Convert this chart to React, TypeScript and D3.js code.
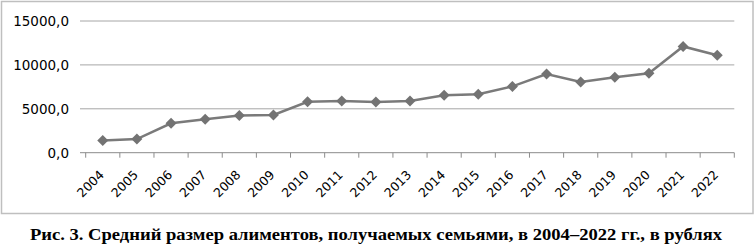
import React from "react";
import * as d3 from "d3";

const years = ["2004","2005","2006","2007","2008","2009","2010","2011","2012","2013","2014","2015","2016","2017","2018","2019","2020","2021","2022"];
const values = [1400, 1550, 3350, 3800, 4250, 4300, 5800, 5900, 5780, 5900, 6550, 6650, 7550, 8950, 8050, 8600, 9050, 12100, 11100];
const yTicks = [0, 5000, 10000, 15000];
const caption = "Рис. 3. Средний размер алиментов, получаемых семьями, в 2004–2022 гг., в рублях";

export default function App() {
  const W = 755, H = 245;
  const left = 85.7, right = 734.3, top = 21, bottom = 152.7;
  const x = d3.scaleBand<string>().domain(years).range([left, right]);
  const y = d3.scaleLinear().domain([0, 15000]).range([bottom, top]);
  const line = d3.line<number>()
    .x((_, i) => (x(years[i]) as number) + x.bandwidth() / 2)
    .y((d) => y(d));
  const fmt = (v: number) => v.toFixed(1).replace(".", ",");
  const boundaries = years.map((yr) => x(yr) as number).concat([right]);
  return (
    <svg width={W} height={H} style={{ position: "absolute", left: 0, top: 0, background: "#fff" }}>
      <rect x={1.5} y={1.5} width={751.5} height={212} fill="#fff" stroke="#bfbfbf" strokeWidth={1.5} />
      {yTicks.map((t) => (
        <g key={t}>
          <line x1={80} x2={right} y1={y(t)} y2={y(t)} stroke={t === 0 ? "#8c8c8c" : "#a6a6a6"} strokeWidth={1} />
          <text x={69} y={y(t)} dy="0.36em" textAnchor="end" fontFamily="DejaVu Sans" fontSize={13.5} fill="#000">{fmt(t)}</text>
        </g>
      ))}
      {boundaries.map((b, i) => (
        <line key={i} x1={b} x2={b} y1={bottom} y2={bottom + 5} stroke="#8c8c8c" strokeWidth={1} />
      ))}
      {years.map((yr) => {
        const cx = (x(yr) as number) + x.bandwidth() / 2;
        return (
          <text key={yr} transform={`translate(${cx + 2},${bottom + 23}) rotate(-45)`} textAnchor="end"
            fontFamily="DejaVu Sans" fontSize={12.5} fill="#000">{yr}</text>
        );
      })}
      <path d={line(values) || ""} fill="none" stroke="#7a7a7a" strokeWidth={2.5} />
      {values.map((v, i) => {
        const cx = (x(years[i]) as number) + x.bandwidth() / 2;
        const cy = y(v);
        const s = 5.5;
        return <path key={i} d={`M${cx},${cy - s}L${cx + s},${cy}L${cx},${cy + s}L${cx - s},${cy}Z`} fill="#737373" />;
      })}
      <text x={376} y={240} textAnchor="middle" fontFamily="Liberation Serif" fontWeight="bold" fontSize={17}
        textLength={692} lengthAdjust="spacingAndGlyphs" fill="#000">{caption}</text>
    </svg>
  );
}
